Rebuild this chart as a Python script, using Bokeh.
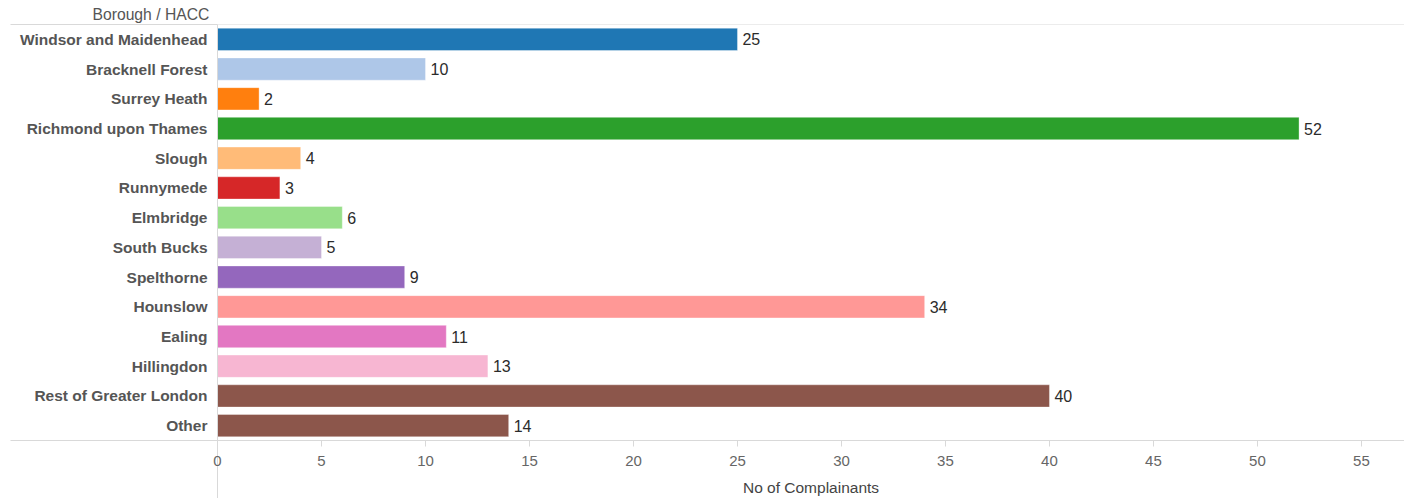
from bokeh.plotting import figure
from bokeh.models import ColumnDataSource, Range1d, FixedTicker, BoxAnnotation, LabelSet
from bokeh.core.properties import value
from bokeh.embed import file_html
from bokeh.resources import INLINE

boroughs = ["Windsor and Maidenhead", "Bracknell Forest", "Surrey Heath", "Richmond upon Thames",
            "Slough", "Runnymede", "Elmbridge", "South Bucks", "Spelthorne", "Hounslow",
            "Ealing", "Hillingdon", "Rest of Greater London", "Other"]
complainants = [25, 10, 2, 52, 4, 3, 6, 5, 9, 34, 11, 13, 40, 14]
bar_colors = ["#1f77b4", "#aec7e8", "#ff7f0e", "#2ca02c", "#ffbb78", "#d62728", "#98df8a",
              "#c5b0d5", "#9467bd", "#ff9896", "#e377c2", "#f7b6d2", "#8c564b", "#8c564b"]
x_ticks = [0, 5, 10, 15, 20, 25, 30, 35, 40, 45, 50, 55]
header = "Borough / HACC"
x_title = "No of Complainants"

FONT = "Liberation Sans"
GRID = "#d9d9d9"

n = len(boroughs)
row_pos = [n - i - 0.5 for i in range(n)]  # top row first

src = ColumnDataSource(dict(borough=boroughs, pos=row_pos, count=complainants, color=bar_colors,
                            label=[str(v) for v in complainants]))

W, H = 1404, 498
p = figure(width=W, height=H, output_backend="svg", toolbar_location=None,
           y_range=Range1d(0, n), x_range=Range1d(0, 57.07),
           min_border_left=217, min_border_right=0, min_border_top=24, min_border_bottom=58)
p.outline_line_color = None
p.xgrid.visible = False
p.ygrid.visible = False
p.background_fill_color = "white"
p.border_fill_color = "white"

p.title.text = header
p.title.align = "left"
p.title.offset = -125
p.title.standoff = 3
p.title.text_font = FONT
p.title.text_font_size = "15.7px"
p.title.text_font_style = "normal"
p.title.text_color = "#555555"

p.hbar(y="pos", right="count", left=0, height=0.75, fill_color="color",
       line_color="white", line_alpha=0.35, line_width=1, source=src)

labels = LabelSet(x="count", y="pos", text="label", x_offset=5, text_baseline="middle",
                  text_font=value(FONT), text_font_size="16px", text_color="#2b2b2b", source=src)
p.add_layout(labels)

TICK_X_EXT = 58
xa = p.xaxis[0]
xa.ticker = FixedTicker(ticks=x_ticks, minor_ticks=[0])
xa.axis_label = x_title
xa.axis_label_text_font = FONT
xa.axis_label_text_font_style = "normal"
xa.axis_label_text_font_size = "15.5px"
xa.axis_label_text_color = "#444444"
xa.axis_label_standoff = 10
xa.major_label_text_font = FONT
xa.major_label_text_font_size = "15px"
xa.major_label_text_color = "#666666"
xa.major_label_standoff = 15 - TICK_X_EXT
xa.axis_line_color = GRID
xa.major_tick_line_color = GRID
xa.major_tick_out = 6
xa.major_tick_in = 0
xa.minor_tick_line_color = GRID
xa.minor_tick_out = TICK_X_EXT
xa.minor_tick_in = 0

TICK_Y_EXT = 207
ya = p.yaxis[0]
ya.ticker = FixedTicker(ticks=row_pos, minor_ticks=[0, n])
ya.major_label_overrides = {pos: name for pos, name in zip(row_pos, boroughs)}
ya.major_label_text_font = FONT
ya.major_label_text_font_size = "15.5px"
ya.major_label_text_font_style = "bold"
ya.major_label_text_color = "#555555"
ya.major_label_standoff = 10 - TICK_Y_EXT
ya.axis_line_color = GRID
ya.major_tick_line_color = None
ya.major_tick_out = 0
ya.major_tick_in = 0
ya.minor_tick_line_color = GRID
ya.minor_tick_out = TICK_Y_EXT
ya.minor_tick_in = 0

# top rule across the plot area
p.add_layout(BoxAnnotation(left=217, right=W, top=23.5, bottom=24.5,
                           left_units="canvas", right_units="canvas", top_units="canvas", bottom_units="canvas",
                           fill_color=GRID, fill_alpha=1, line_color=None))

open("out.html", "w").write(file_html(p, INLINE))
